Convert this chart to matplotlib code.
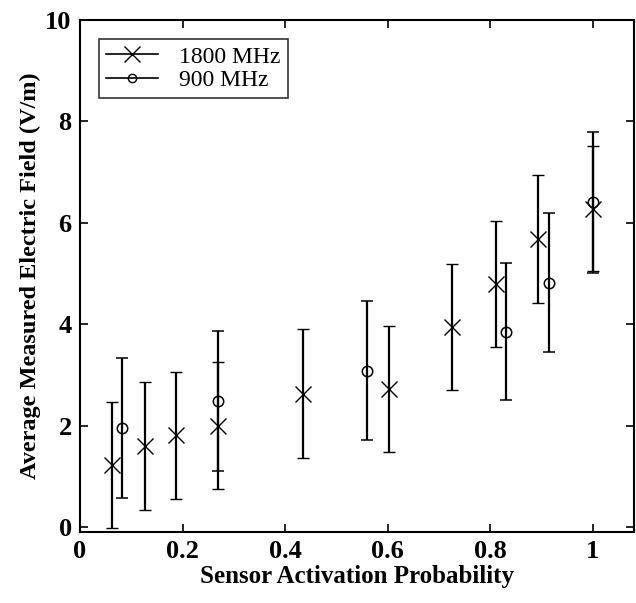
import matplotlib
matplotlib.use('Agg')
import matplotlib.pyplot as plt
from matplotlib.lines import Line2D

# 1800 MHz series
p_1800 = [0.062, 0.127, 0.187, 0.269, 0.434, 0.603, 0.726, 0.811, 0.893, 1.0]
e_1800 = [1.22, 1.60, 1.81, 2.00, 2.63, 2.72, 3.95, 4.79, 5.68, 6.28]
err_1800 = [1.25, 1.26, 1.25, 1.25, 1.27, 1.25, 1.24, 1.25, 1.26, 1.24]

# 900 MHz series
p_900 = [0.081, 0.269, 0.559, 0.831, 0.914, 1.0]
e_900 = [1.96, 2.48, 3.08, 3.85, 4.82, 6.40]
err_900 = [1.38, 1.38, 1.37, 1.35, 1.37, 1.39]

plt.rcParams['font.family'] = ['Liberation Serif', 'DejaVu Serif']

fig = plt.figure(figsize=(6.36, 6.03), dpi=100)
ax = fig.add_axes([80 / 636, 71 / 603, 554 / 636, 512 / 603])

ax.errorbar(p_1800, e_1800, yerr=err_1800, fmt='x', color='black', ecolor='black',
            markersize=11, markeredgewidth=1.0, elinewidth=1.6, capsize=4.5, capthick=1.6)
ax.errorbar(p_900, e_900, yerr=err_900, fmt='o', color='black', ecolor='black',
            markersize=7.5, markerfacecolor='none', markeredgewidth=1.1, elinewidth=1.6,
            capsize=4.5, capthick=1.6)

ax.set_xlim(0, 1.08)
ax.set_ylim(-0.1, 10)
ax.set_xticks([0, 0.2, 0.4, 0.6, 0.8, 1])
ax.set_xticklabels(['0', '0.2', '0.4', '0.6', '0.8', '1'])
ax.set_yticks([0, 2, 4, 6, 8, 10])

ax.tick_params(direction='in', top=True, right=True, length=6, width=1.2,
               labelsize=19, pad=6)
for lbl in ax.get_xticklabels() + ax.get_yticklabels():
    lbl.set_fontweight('bold')
for s in ax.spines.values():
    s.set_linewidth(1.5)

ax.set_xlabel('Sensor Activation Probability', fontsize=18, fontweight='bold', labelpad=1)
ax.set_ylabel('Average Measured Electric Field (V/m)', fontsize=17.5, fontweight='bold', labelpad=3)

handles = [
    Line2D([], [], color='black', lw=1.2, marker='x', markersize=11, markeredgewidth=1.0),
    Line2D([], [], color='black', lw=1.2, marker='o', markersize=6, markerfacecolor='none'),
]
leg = ax.legend(handles, ['1800 MHz', '900 MHz'], loc='upper left', fontsize=17,
                frameon=True, fancybox=False, edgecolor='black', borderpad=0.3,
                handlelength=2.2, handletextpad=0.9, labelspacing=0.1, borderaxespad=0.8)
leg.get_frame().set_linewidth(1.2)

fig.savefig('out.png', dpi=100, facecolor='white')
